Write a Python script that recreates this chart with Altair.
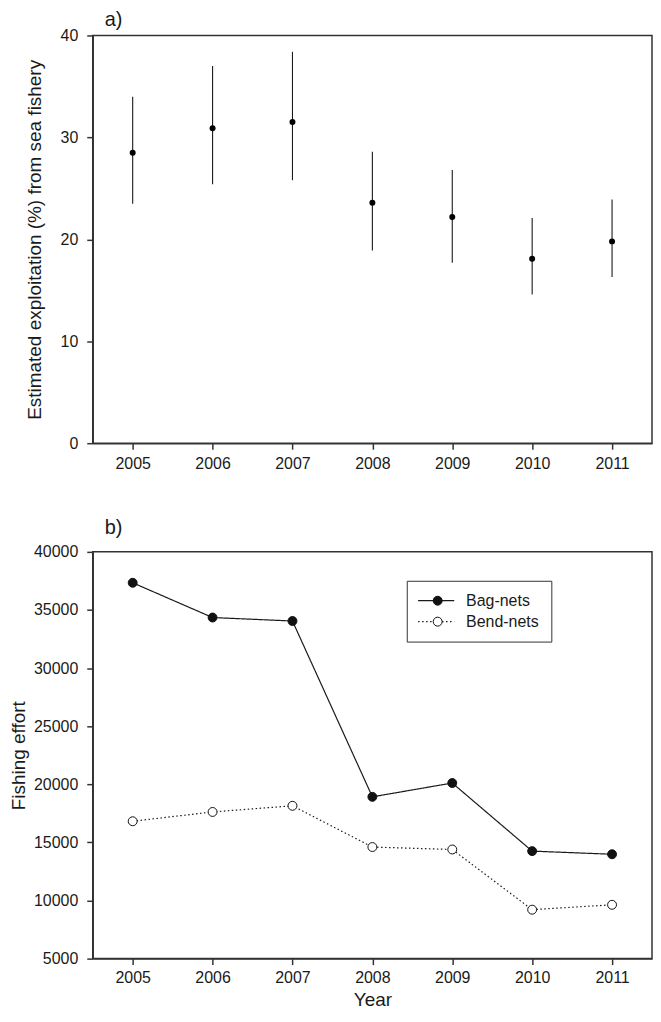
import altair as alt
import pandas as pd

# ---------------- data ----------------
years = [2005, 2006, 2007, 2008, 2009, 2010, 2011]
expl_mean = [28.5, 30.9, 31.5, 23.6, 22.2, 18.1, 19.8]
expl_low = [23.5, 25.4, 25.8, 18.9, 17.7, 14.6, 16.3]
expl_high = [34.0, 37.0, 38.4, 28.6, 26.8, 22.1, 23.9]

series_names = ["Bag-nets", "Bend-nets"]
bag_nets = [37340, 34350, 34050, 18920, 20110, 14250, 13980]
bend_nets = [16820, 17620, 18150, 14600, 14390, 9210, 9630]

y_ticks_a = [0, 10, 20, 30, 40]
y_ticks_b = [5000, 10000, 15000, 20000, 25000, 30000, 35000, 40000]

FONT = "Liberation Sans"
INK = "#1a1a1a"
AX = "#333333"
W = 561

df_a = pd.DataFrame({"year": years, "mean": expl_mean, "low": expl_low, "high": expl_high})
df_b = pd.DataFrame({
    "year": years + years,
    "effort": bag_nets + bend_nets,
    "series": [series_names[0]] * len(years) + [series_names[1]] * len(years),
})
df_b["series2"] = df_b["series"]

xscale = alt.Scale(domain=[2004.5, 2011.5], nice=False, zero=False)

# ---------------- panel a ----------------
x_a = alt.X("year:Q", scale=xscale,
            axis=alt.Axis(values=years, format="d", title=None, labelPadding=6))
y_a_axis = alt.Axis(values=y_ticks_a, title="Estimated exploitation (%) from sea fishery",
                    titlePadding=16, labelPadding=9)

bars = alt.Chart(df_a).mark_rule(color=INK, strokeWidth=1.1).encode(
    x=x_a,
    y=alt.Y("low:Q", scale=alt.Scale(domain=[0, 40], nice=False), axis=y_a_axis),
    y2="high:Q",
)
dots = alt.Chart(df_a).mark_circle(size=36, color="#000000", opacity=1).encode(
    x=x_a,
    y=alt.Y("mean:Q"),
)
top = alt.layer(bars, dots).properties(
    width=W, height=409,
    title=alt.TitleParams("a)", anchor="start", frame="group", dx=12, offset=-3,
                          fontSize=20, fontWeight="normal", font=FONT, color=INK),
)

# ---------------- panel b ----------------
x_b = alt.X("year:Q", scale=xscale,
            axis=alt.Axis(values=years, format="d", title="Year", labelPadding=5, titlePadding=5))
y_b = alt.Y("effort:Q", scale=alt.Scale(domain=[5000, 40000], nice=False, zero=False),
            axis=alt.Axis(values=y_ticks_b, format="d", title="Fishing effort",
                          titlePadding=5, labelPadding=9))

lines = alt.Chart(df_b).mark_line(color=INK, strokeWidth=1.2).encode(
    x=x_b,
    y=y_b,
    strokeDash=alt.StrokeDash(
        "series:N",
        scale=alt.Scale(range=[[1, 0], [1.5, 2.5]]),
        legend=alt.Legend(title=None, orient="none", legendX=315, legendY=29,
                          symbolType="M-2.5,0H2.5", symbolSize=210,
                          symbolStrokeColor=INK, symbolStrokeWidth=1.2,
                          symbolOffset=9.5, labelOffset=22, padding=12, rowPadding=5,
                          labelFontSize=16, labelFont=FONT, labelColor=INK,
                          strokeColor=AX, fillColor="white"),
    ),
)
pts = alt.Chart(df_b).mark_circle(size=80, stroke="#111111", strokeWidth=1, opacity=1).encode(
    x=x_b,
    y=y_b,
    fill=alt.Fill(
        "series2:N",
        scale=alt.Scale(range=["#111111", "#ffffff"]),
        legend=alt.Legend(title=None, orient="none", legendX=315, legendY=29,
                          symbolType="circle", symbolSize=80,
                          symbolStrokeColor="#111111", symbolStrokeWidth=1,
                          symbolOffset=11, labelOffset=22, padding=12, rowPadding=5,
                          labelFontSize=16, labelFont=FONT, labelOpacity=0),
    ),
)
bottom = alt.layer(lines, pts).properties(
    width=W, height=408,
    title=alt.TitleParams("b)", anchor="start", frame="group", dx=12, offset=6,
                          fontSize=20, fontWeight="normal", font=FONT, color=INK),
)

chart = alt.vconcat(top, bottom, spacing=45).resolve_scale(
    strokeDash="independent", fill="independent"
).resolve_legend(
    strokeDash="independent", fill="independent"
).properties(
    padding={"left": 0, "top": 0, "right": 0, "bottom": 0}
).configure_axis(
    labelFont=FONT, titleFont=FONT, labelFontSize=16, titleFontSize=19,
    titleFontWeight="normal", labelColor=INK, titleColor=INK,
    domainColor=AX, domainWidth=1.5, tickColor=AX, tickWidth=1.5, tickSize=6,
    grid=False, labelOverlap=False,
).configure_view(stroke=AX, strokeWidth=1.5)

chart.save("out.html", embed_options={"renderer": "svg", "actions": False})
